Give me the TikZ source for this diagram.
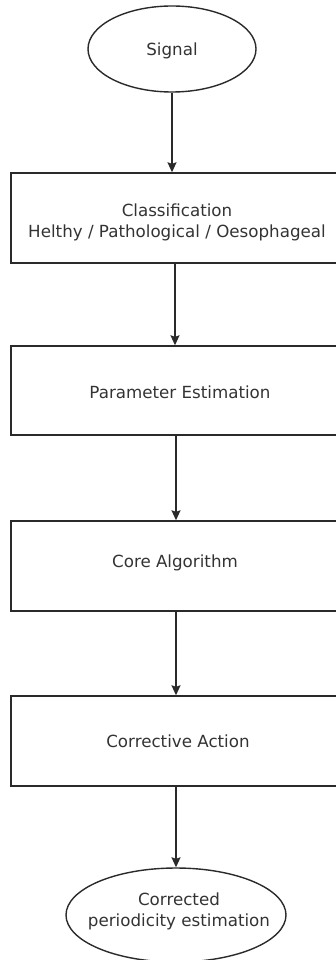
\documentclass[tikz,border=0pt]{standalone}
\usepackage{fontspec}
\setmainfont{DejaVu Sans}
\usetikzlibrary{shapes.geometric,arrows.meta}
\definecolor{ink}{HTML}{2A2A2A}
\definecolor{txt}{HTML}{333333}
\begin{document}
\begin{tikzpicture}[x=1pt,y=-1pt,
  every node/.style={font=\fontsize{16.7}{21}\selectfont, text=txt, align=center},
  termbox/.style={draw=ink, line width=1.4pt, ellipse, inner sep=0pt},
  stepbox/.style={draw=ink, line width=1.4pt, rectangle, inner sep=0pt, minimum width=328pt, minimum height=90pt},
  flow/.style={draw=ink, line width=1.4pt, -{Stealth[length=10pt,width=9pt,inset=1.5pt]}}
]
\useasboundingbox (0,0) rectangle (336,960);
\node[termbox, minimum width=168pt, minimum height=86pt] (sig) at (172,49) {};
\node (t0) at (172,51) {Signal};
\node[stepbox] (b1) at (175,218) {};
\node (t1) at (177,222) {Classification\\Helthy / Pathological / Oesophageal};
\node[stepbox, minimum height=89pt] (b2) at (175,390.5) {};
\node (t2) at (180,392) {Parameter Estimation};
\node[stepbox] (b3) at (175,566) {};
\node (t3) at (175,563) {Core Algorithm};
\node[stepbox] (b4) at (175,741) {};
\node (t4) at (178,741) {Corrective Action};
\node[termbox, minimum width=220pt, minimum height=94pt] (out) at (176,915) {};
\node (t5) at (179,911) {Corrected\\periodicity estimation};
\draw[flow] (sig.south) -- (sig.south |- b1.north);
\draw[flow] (b1.south) -- (b2.north);
\draw[flow] ([xshift=1pt]b2.south) -- ([xshift=1pt]b3.north);
\draw[flow] ([xshift=1pt]b3.south) -- ([xshift=1pt]b4.north);
\draw[flow] ([xshift=1pt]b4.south) -- (out.north);
\end{tikzpicture}
\end{document}
